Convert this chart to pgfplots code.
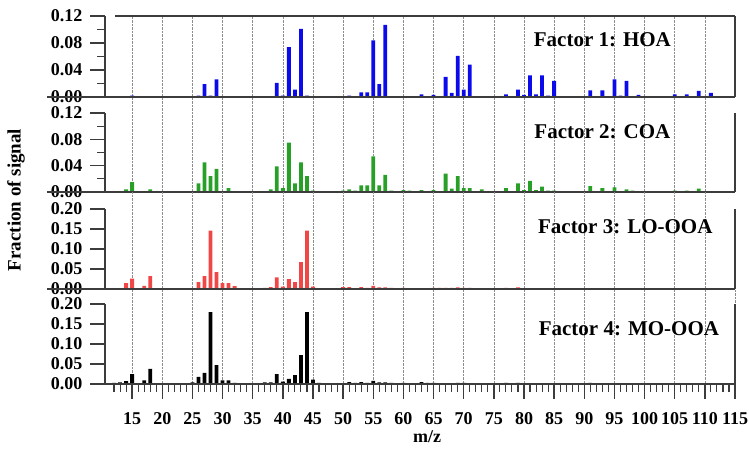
\documentclass[border=0pt]{standalone}
\usepackage{fontspec}
\setmainfont{Liberation Serif}
\usepackage{pgfplots}
\pgfplotsset{compat=1.18}

\definecolor{hoa}{RGB}{10,10,235}
\definecolor{coa}{RGB}{40,160,40}
\definecolor{lo}{RGB}{240,70,70}
\definecolor{axisgray}{RGB}{60,60,60}

\tikzset{spine/.style={line width=1.3pt, axisgray},
  flab/.style={font=\fontsize{21}{21}\selectfont\bfseries}}

\pgfplotsset{msp/.style={
  scale only axis, width=630pt, xmin=10.5, xmax=115, ymin=0,
  axis line style={draw=none}, clip=false,
  ybar, bar width=3.8pt,
  xtick={15,20,...,110}, xticklabels={},
  xmajorgrids, major grid style={densely dotted, black!45, line width=0.6pt},
  ytick pos=left, tick align=outside,
  major tick length=15pt, minor tick length=8pt,
  tick style={draw=none},
  ticklabel style={font=\fontsize{18}{18}\selectfont\bfseries},
  yticklabel shift=4pt,
  /pgf/number format/assume math mode=true,
  yticklabel style={/pgf/number format/fixed, /pgf/number format/fixed zerofill,
    /pgf/number format/precision=2},
}}

\begin{document}
\begin{tikzpicture}
\useasboundingbox (0,0) rectangle (749pt,-448pt);

% Factor 1: HOA
\begin{axis}[msp, at={(105pt,-97pt)}, anchor=south west, height=81pt, ymax=0.12,
  ytick={0,0.04,0.08,0.12}, minor ytick={0.02,0.06,0.10}]
\addplot[fill=hoa, draw=none] coordinates {
(15,0.002)(26,0.002)(27,0.019)(28,0.002)(29,0.026)(39,0.021)(40,0.002)(41,0.074)
(42,0.011)(43,0.101)(44,0.002)(51,0.002)(53,0.007)(54,0.007)(55,0.084)(56,0.019)
(57,0.107)(63,0.004)(65,0.003)(67,0.030)(68,0.006)(69,0.061)(70,0.011)(71,0.048)
(77,0.004)(79,0.011)(80,0.003)(81,0.032)(82,0.004)(83,0.032)(84,0.002)(85,0.024)
(91,0.010)(93,0.010)(95,0.026)(96,0.002)(97,0.024)(99,0.003)(105,0.004)(107,0.004)
(109,0.009)(111,0.006)};
\draw[spine] (axis cs:10.5,0) -- (axis cs:10.5,0.12);
\draw[spine] (axis cs:115,0) -- (axis cs:115,0.12);
\draw[spine] (axis cs:12.2,0.12) -- (axis cs:115,0.12);
\draw[spine] ([xshift=-58pt]axis cs:10.5,0) -- (axis cs:115,0);
\pgfplotsinvokeforeach{0.04,0.08,0.12}{\draw[spine] (axis cs:10.5,#1) -- ++(-15pt,0pt);}
\pgfplotsinvokeforeach{0.02,0.06,0.10}{\draw[spine] (axis cs:10.5,#1) -- ++(-8pt,0pt);}
\node[flab] at (axis cs:93,0.085) {Factor 1: HOA};
\end{axis}

% Factor 2: COA
\begin{axis}[msp, at={(105pt,-192pt)}, anchor=south west, height=95pt, ymax=0.1443,
  ytick={0,0.04,0.08,0.12}, minor ytick={0.02,0.06,0.10}]
\addplot[fill=coa, draw=none] coordinates {
(14,0.004)(15,0.015)(18,0.004)(26,0.013)(27,0.045)(28,0.024)(29,0.035)(31,0.006)
(38,0.004)(39,0.039)(40,0.006)(41,0.075)(42,0.013)(43,0.045)(44,0.024)(45,0.002)
(50,0.002)(51,0.004)(52,0.002)(53,0.010)(54,0.010)(55,0.054)(56,0.010)(57,0.026)
(58,0.002)(60,0.003)(61,0.002)(63,0.003)(65,0.003)(67,0.028)(68,0.005)(69,0.024)
(70,0.006)(71,0.006)(73,0.004)(77,0.006)(79,0.013)(80,0.003)(81,0.017)(82,0.003)
(83,0.008)(84,0.002)(85,0.002)(91,0.009)(93,0.006)(95,0.007)(97,0.004)(98,0.002)
(105,0.002)(107,0.002)(109,0.005)};
\draw[spine] (axis cs:10.5,0) -- (axis cs:10.5,0.12);
\draw[spine] (axis cs:115,0) -- (axis cs:115,0.12);
\draw[spine] ([xshift=-58pt]axis cs:10.5,0) -- (axis cs:115,0);
\pgfplotsinvokeforeach{0.04,0.08,0.12}{\draw[spine] (axis cs:10.5,#1) -- ++(-15pt,0pt);}
\pgfplotsinvokeforeach{0.02,0.06,0.10}{\draw[spine] (axis cs:10.5,#1) -- ++(-8pt,0pt);}
\node[flab] at (axis cs:93,0.091) {Factor 2: COA};
\end{axis}

% Factor 3: LO-OOA
\begin{axis}[msp, at={(105pt,-289pt)}, anchor=south west, height=97pt, ymax=0.2425,
  ytick={0,0.05,0.10,0.15,0.20}]
\addplot[fill=lo, draw=none] coordinates {
(13,0.002)(14,0.015)(15,0.026)(17,0.008)(18,0.032)(25,0.002)(26,0.017)(27,0.032)
(28,0.146)(29,0.042)(30,0.015)(31,0.015)(32,0.007)(37,0.003)(38,0.005)(39,0.029)
(40,0.006)(41,0.025)(42,0.017)(43,0.067)(44,0.146)(45,0.006)(50,0.005)(51,0.005)
(52,0.002)(53,0.005)(54,0.003)(55,0.008)(56,0.004)(57,0.004)(58,0.003)(59,0.002)
(60,0.003)(63,0.002)(65,0.003)(66,0.003)(67,0.003)(68,0.003)(69,0.004)(70,0.003)
(71,0.003)(73,0.002)(75,0.002)(77,0.003)(78,0.002)(79,0.004)(81,0.002)(82,0.002)
(83,0.002)(85,0.002)(91,0.002)(95,0.002)(105,0.002)(109,0.002)};
\draw[spine] (axis cs:10.5,0) -- (axis cs:10.5,0.20);
\draw[spine] (axis cs:115,0) -- (axis cs:115,0.20);
\draw[spine] ([xshift=-58pt]axis cs:10.5,0) -- (axis cs:115,0);
\pgfplotsinvokeforeach{0.05,0.10,0.15,0.20}{\draw[spine] (axis cs:10.5,#1) -- ++(-15pt,0pt);}
\node[flab] at (axis cs:96.8,0.156) {Factor 3: LO-OOA};
\end{axis}

% Factor 4: MO-OOA
\begin{axis}[msp, at={(105pt,-384pt)}, anchor=south west, height=95pt, ymax=0.2375,
  ytick={0,0.05,0.10,0.15,0.20},
  xtick={15,20,...,115}, xticklabels={15,20,25,30,35,40,45,50,55,60,65,70,75,80,85,90,95,100,105,110,115},
  xtick pos=bottom, xticklabel shift=10pt]
\addplot[fill=black, draw=none] coordinates {
(12,0.003)(13,0.004)(14,0.007)(15,0.025)(16,0.002)(17,0.009)(18,0.038)(25,0.004)
(26,0.018)(27,0.028)(28,0.180)(29,0.047)(30,0.009)(31,0.009)(32,0.003)(37,0.004)
(38,0.004)(39,0.025)(40,0.006)(41,0.013)(42,0.022)(43,0.072)(44,0.180)(45,0.011)
(46,0.003)(50,0.002)(51,0.005)(52,0.003)(53,0.005)(54,0.003)(55,0.008)(56,0.004)
(57,0.004)(58,0.003)(60,0.003)(63,0.005)(64,0.003)(65,0.003)(68,0.002)(69,0.003)
(70,0.003)(71,0.002)(73,0.002)(77,0.003)(78,0.002)(79,0.003)(81,0.002)(85,0.002)
(91,0.003)};
\draw[spine] (axis cs:10.5,0) -- (axis cs:10.5,0.20);
\draw[spine] (axis cs:115,0) -- (axis cs:115,0.20);
\draw[spine] (axis cs:10.5,0) -- (axis cs:115,0);
\pgfplotsinvokeforeach{0,0.05,0.10,0.15,0.20}{\draw[spine] (axis cs:10.5,#1) -- ++(-15pt,0pt);}
\pgfplotsinvokeforeach{12,...,114}{\draw[line width=1.1pt, axisgray] (axis cs:#1,0) -- ++(0pt,-8pt);}
\pgfplotsinvokeforeach{15,20,...,115}{\draw[spine] (axis cs:#1,0) -- ++(0pt,-15pt);}
\node[flab] at (axis cs:97.4,0.139) {Factor 4: MO-OOA};
\end{axis}

\node[rotate=90, font=\fontsize{19}{19}\selectfont\bfseries] at (16pt,-200pt) {Fraction of signal};
\node[font=\fontsize{18}{18}\selectfont\bfseries, inner sep=1pt] at (427pt,-437pt) {m/z};
\end{tikzpicture}
\end{document}
